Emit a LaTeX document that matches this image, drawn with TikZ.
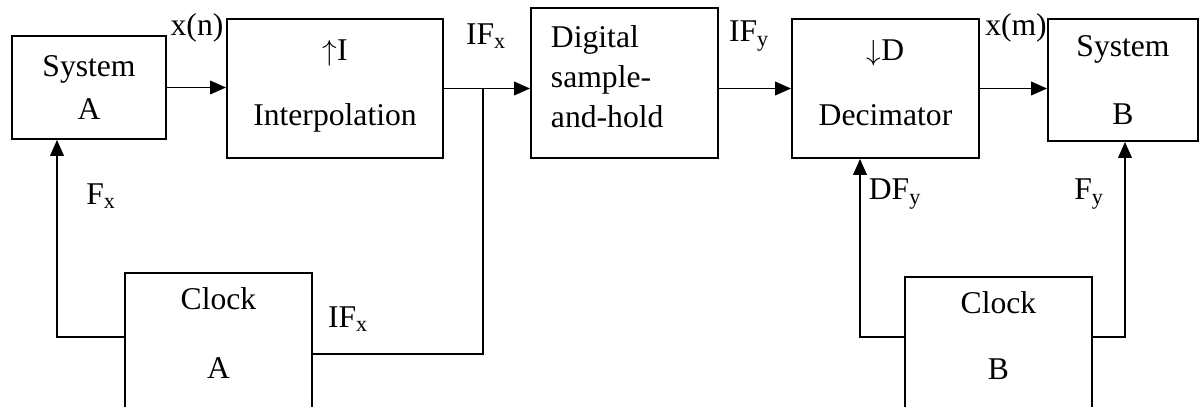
\documentclass[tikz,border=0pt]{standalone}
\usepackage{fontspec}
\setmainfont{Liberation Serif}
\usetikzlibrary{arrows.meta}

\tikzset{
  block/.style={shape=rectangle,draw=black,line width=1.3pt,align=center},
  clock/.style={block,anchor=north,minimum width=4.675cm,inner ysep=0.375cm,text depth=3cm},
  sig/.style={inner sep=0pt}
}

\begin{document}
\begin{tikzpicture}[x=0.025cm,y=-0.025cm,line width=1.3pt,
    >={Triangle[length=0.4cm,width=0.34cm]},
    every node/.style={font=\fontsize{22.5}{27}\selectfont}]
  \useasboundingbox (0,0) rectangle (1204,407);

  % top row
  \node[block,minimum width=3.85cm,minimum height=2.575cm] (sysA) at (89,87.5) {System\\[3.6pt]A};
  \node[block,minimum width=5.4cm,minimum height=3.475cm,text depth=0.3cm] (interp) at (335,88.5) {$\uparrow$I\\[19pt]Interpolation};
  \node[block,minimum width=4.675cm,minimum height=3.75cm,align=left,inner xsep=0.5cm,text width=3.675cm,text depth=2.3cm] (sah) at (624.5,83) {Digital\\[1.4pt]sample-\\[1.4pt]and-hold};
  \node[block,minimum width=4.675cm,minimum height=3.475cm,text depth=0.3cm] (decim) at (885.5,88.5) {$\downarrow$D\\[19pt]Decimator};
  \node[block,minimum width=3.75cm,minimum height=3.05cm] (sysB) at (1123,80) {System\\[21.4pt]B};

  % clocks, cut off at the bottom
  \node[clock] (clkA) at (218.5,272) {Clock\\[22pt]A};
  \node[clock] (clkB) at (998.5,276) {Clock\\[20pt]B};

  % signal names
  \node[sig] (xn) at (197,28) {x(n)};
  \node[sig] (ifx) at (486,36) {IF\textsubscript{x}};
  \node[sig] (ify) at (749,36) {IF\textsubscript{y}};
  \node[sig] (xm) at (1016,28) {x(m)};
  \node[sig] (fx) at (101,196) {F\textsubscript{x}};
  \node[sig] (ifxc) at (348,319) {IF\textsubscript{x}};
  \node[sig] (dfy) at (895,194) {DF\textsubscript{y}};
  \node[sig] (fy) at (1089,194) {F\textsubscript{y}};

  \coordinate (br) at (483,88.5);

  \path [->] (sysA.east) edge (interp.west |- sysA.east);
  \path [->] (interp.east) edge (sah.west |- interp.east);
  \path [->] (sah.east |- decim.east) edge (decim.west);
  \path [->] (decim.east) edge (sysB.west |- decim.east);

  \draw (br) |- (clkA.north east |- 0,354);
  \draw [->] (clkA.north west |- 0,337) -| (57,0 |- sysA.south);
  \draw [->] (clkB.north west |- 0,337) -| (860,0 |- decim.south);
  \draw [->] (clkB.north east |- 0,337) -| (1125,0 |- sysB.south);
\end{tikzpicture}
\end{document}
